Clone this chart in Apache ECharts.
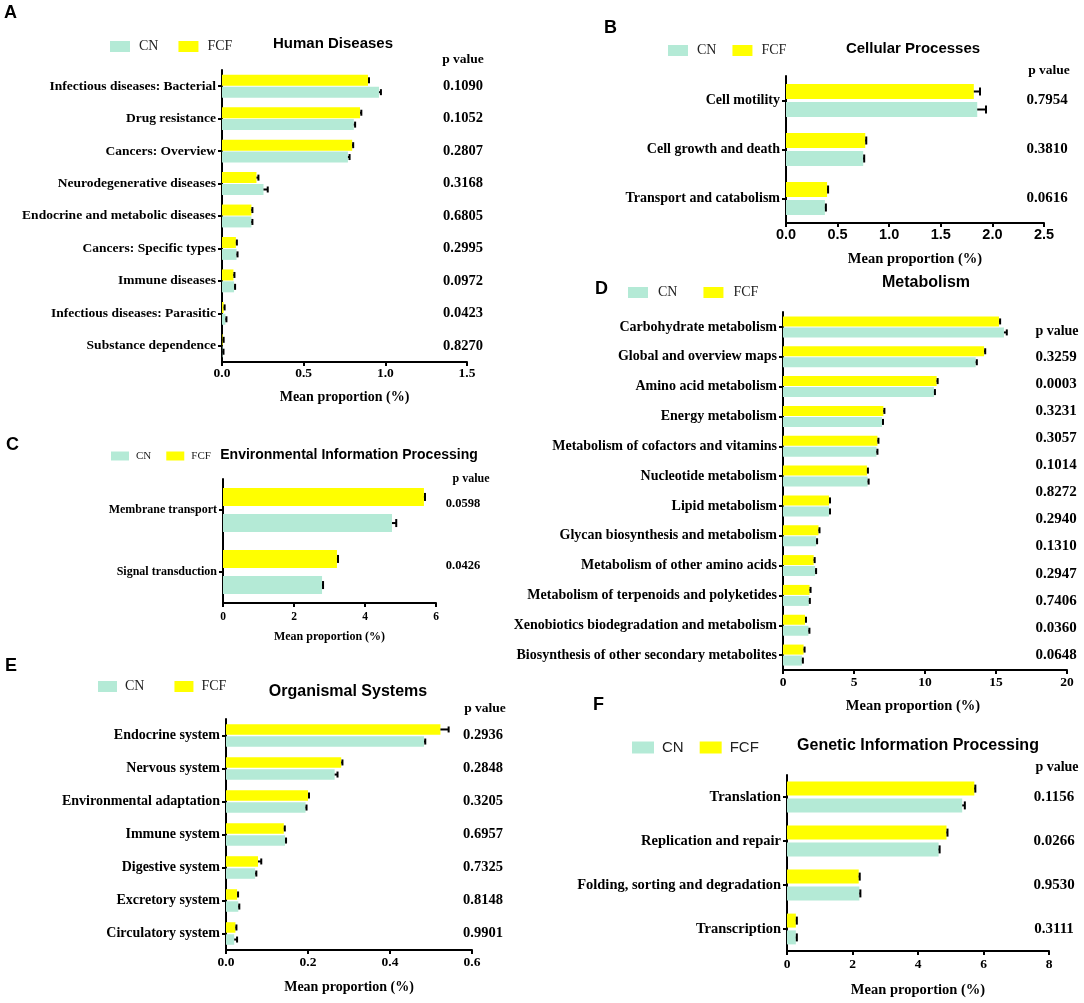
<!DOCTYPE html>
<html><head><meta charset="utf-8">
<script src="https://cdn.jsdelivr.net/npm/echarts@6/dist/echarts.min.js"></script>
<style>html,body{margin:0;padding:0;background:#fff}#c{width:1084px;height:1003px}</style>
</head><body><div id="c"></div>
<script>
// ---------------- DATA ----------------
const catsA = ['Infectious diseases: Bacterial','Drug resistance','Cancers: Overview','Neurodegenerative diseases','Endocrine and metabolic diseases','Cancers: Specific types','Immune diseases','Infectious diseases: Parasitic','Substance dependence'];
const fcfA = [0.894, 0.845, 0.797, 0.211, 0.180, 0.085, 0.070, 0.010, 0.004];
const fcfErrA = [0.006, 0.008, 0.006, 0.012, 0.004, 0.004, 0.004, 0.002, 0.001];
const cnA = [0.961, 0.807, 0.771, 0.254, 0.180, 0.089, 0.074, 0.021, 0.003];
const cnErrA = [0.012, 0.008, 0.010, 0.026, 0.004, 0.004, 0.004, 0.003, 0.001];
const pA = ['0.1090','0.1052','0.2807','0.3168','0.6805','0.2995','0.0972','0.0423','0.8270'];

const catsB = ['Cell motility','Cell growth and death','Transport and catabolism'];
const fcfB = [1.82, 0.768, 0.398];
const fcfErrB = [0.06, 0.008, 0.008];
const cnB = [1.853, 0.748, 0.377];
const cnErrB = [0.085, 0.008, 0];
const pB = ['0.7954','0.3810','0.0616'];

const catsC = ['Membrane transport','Signal transduction'];
const fcfC = [5.66, 3.21];
const fcfErrC = [0.03, 0.03];
const cnC = [4.76, 2.79];
const cnErrC = [0.12, 0];
const pC = ['0.0598','0.0426'];

const catsD = ['Carbohydrate metabolism','Global and overview maps','Amino acid metabolism','Energy metabolism','Metabolism of cofactors and vitamins','Nucleotide metabolism','Lipid metabolism','Glycan biosynthesis and metabolism','Metabolism of other amino acids','Metabolism of terpenoids and polyketides','Xenobiotics biodegradation and metabolism','Biosynthesis of other secondary metabolites'];
const fcfD = [15.21, 14.16, 10.82, 7.07, 6.65, 5.91, 3.24, 2.50, 2.16, 1.87, 1.55, 1.45];
const fcfErrD = [0.08, 0.08, 0.06, 0.05, 0.05, 0.04, 0.03, 0.05, 0.04, 0.03, 0.04, 0];
const cnD = [15.56, 13.57, 10.63, 6.97, 6.58, 5.96, 3.24, 2.33, 2.26, 1.82, 1.79, 1.33];
const cnErrD = [0.2, 0.08, 0.06, 0.05, 0.05, 0.04, 0.03, 0.05, 0.04, 0.03, 0.04, 0];
const pD = ['0.3259','0.0003','0.3231','0.3057','0.1014','0.8272','0.2940','0.1310','0.2947','0.7406','0.0360','0.0648'];

const catsE = ['Endocrine system','Nervous system','Environmental adaptation','Immune system','Digestive system','Excretory system','Circulatory system'];
const fcfE = [0.523, 0.281, 0.200, 0.141, 0.078, 0.027, 0.023];
const fcfErrE = [0.020, 0.003, 0.002, 0.002, 0.008, 0.002, 0.002];
const cnE = [0.483, 0.265, 0.194, 0.144, 0.071, 0.030, 0.020];
const cnErrE = [0.003, 0.007, 0.002, 0.002, 0.003, 0, 0.007];
const pE = ['0.2936','0.2848','0.3205','0.6957','0.7325','0.8148','0.9901'];

const catsF = ['Translation','Replication and repair','Folding, sorting and degradation','Transcription'];
const fcfF = [5.72, 4.87, 2.19, 0.27];
const fcfErrF = [0.03, 0.03, 0.02, 0];
const cnF = [5.35, 4.63, 2.21, 0.27];
const cnErrF = [0.08, 0.03, 0.02, 0];
const pF = ['0.1156','0.0266','0.9530','0.3111'];

const titles = ['Human Diseases','Cellular Processes','Environmental Information Processing','Metabolism','Organismal Systems','Genetic Information Processing'];
const letters = ['A','B','C','D','E','F'];
const axisMax = [1.5, 2.5, 6, 20, 0.6, 8];
const axisStep = [0.5, 0.5, 2, 5, 0.2, 2];
const groupNames = ['CN','FCF'];

// ---------------- STYLE / LAYOUT ----------------
const SERIF = '"Liberation Serif","Times New Roman",serif';
const SANS = '"Liberation Sans",Arial,sans-serif';
const CN_COLOR = '#b4ead6';
const FCF_COLOR = '#ffff00';

const layouts = [
  {left:222, top:70, width:245, height:292, dec:1, bw:11, gap:0.08, cap:3, lab:13.5, tick:13.5, tickFam:SERIF, tickMargin:5, nameGap:28.5, nameSize:14, namePad:0,
   letter:[4,13], lg:{left:110, top:39.5, w:20, h:11, gap:20, size:14, fam:SERIF, pad:4}, title:[333,44,15], pHead:[463,60], pHeadSize:13.5, pX:463, pOff:0, pSize:14.5},
  {left:786, top:76, width:258, height:147, dec:1, bw:15, gap:0.2, cap:4, lab:14, tick:14.5, tickFam:SANS, tickMargin:4, nameGap:28.5, nameSize:14.5, namePad:0,
   letter:[604,28], lg:{left:668, top:43.5, w:20, h:11, gap:16, size:14, fam:SERIF, pad:4}, title:[913,49,15], pHead:[1049,71], pHeadSize:13.5, pX:1047, pOff:0, pSize:15},
  {left:223, top:479, width:213, height:124, dec:0, bw:18, gap:0.45, cap:4, lab:12, tick:11.5, tickFam:SERIF, tickMargin:8, nameGap:28, nameSize:12, namePad:0,
   letter:[6,445], lg:{left:111, top:450.5, w:18, h:9, gap:15, size:11, fam:SERIF, pad:2}, title:[349,455,14], pHead:[471,479], pHeadSize:12, pX:463, pOff:-6, pSize:12.5},
  {left:783, top:312, width:284, height:358, dec:0, bw:10, gap:0.1, cap:3, lab:14, tick:13.5, tickFam:SERIF, tickMargin:6, nameGap:28.5, nameSize:14.5, namePad:24,
   letter:[595,289], lg:{left:628, top:285.5, w:20, h:11, gap:26, size:14, fam:SERIF, pad:5}, title:[926,283,16], pHead:[1057,331], pHeadSize:14, pX:1056, pOff:0, pSize:15, spreadP:true},
  {left:226, top:719, width:246, height:231, dec:1, bw:10.5, gap:0.15, cap:3, lab:14, tick:13.5, tickFam:SERIF, tickMargin:6, nameGap:30, nameSize:14, namePad:0,
   letter:[5,666], lg:{left:98, top:679.5, w:19, h:11, gap:30, size:14, fam:SERIF, pad:3}, title:[348,692,16], pHead:[485,709], pHeadSize:13.5, pX:483, pOff:0, pSize:14.5},
  {left:787, top:775, width:262, height:176, dec:0, bw:14, gap:0.2, cap:4, lab:14.5, tick:13.5, tickFam:SERIF, tickMargin:7, nameGap:31.5, nameSize:14.5, namePad:0,
   letter:[593,705], lg:{left:632, top:740, w:22, h:12, gap:16, size:15, fam:SANS, pad:3}, title:[918,746,16], pHead:[1057,767], pHeadSize:14, pX:1054, pOff:0, pSize:15}
];

const panels = [
  {cats:catsA, fcf:fcfA, fcfErr:fcfErrA, cn:cnA, cnErr:cnErrA, p:pA},
  {cats:catsB, fcf:fcfB, fcfErr:fcfErrB, cn:cnB, cnErr:cnErrB, p:pB},
  {cats:catsC, fcf:fcfC, fcfErr:fcfErrC, cn:cnC, cnErr:cnErrC, p:pC},
  {cats:catsD, fcf:fcfD, fcfErr:fcfErrD, cn:cnD, cnErr:cnErrD, p:pD},
  {cats:catsE, fcf:fcfE, fcfErr:fcfErrE, cn:cnE, cnErr:cnErrE, p:pE},
  {cats:catsF, fcf:fcfF, fcfErr:fcfErrF, cn:cnF, cnErr:cnErrF, p:pF}
];

function txt(x, y, text, font, align) {
  return {type:'text', x:x, y:y, silent:true, z:10,
    style:{text:text, font:font, fill:'#000', align:align||'center', verticalAlign:'middle',
           textAlign:align||'center', textVerticalAlign:'middle'}};
}

function errSeries(i, vals, errs, sign, L) {
  return {type:'custom', xAxisIndex:i, yAxisIndex:i, z:5, silent:true, clip:false,
    data: vals.map((v,k)=>[v, errs[k], k]),
    encode:{x:0, y:2},
    renderItem:function(params, api){
      const v=api.value(0), e=api.value(1), k=api.value(2);
      const p0=api.coord([v,k]), p1=api.coord([v+e,k]);
      const off = sign*(L.bw*(1+L.gap))/2;
      const y=p0[1]+off, cap=L.cap;
      const xe = Math.max(p1[0], p0[0]+1);
      return {type:'group', children:[
        {type:'line', shape:{x1:p0[0], y1:y, x2:xe, y2:y}, style:{stroke:'#000', lineWidth:2}},
        {type:'line', shape:{x1:xe, y1:y-cap, x2:xe, y2:y+cap}, style:{stroke:'#000', lineWidth:2}}
      ]};
    }};
}

const option = {animation:false, backgroundColor:'#fff', grid:[], xAxis:[], yAxis:[], series:[], legend:[], graphic:[]};

panels.forEach((P, i) => {
  const L = layouts[i];
  const n = P.cats.length;
  option.grid.push({left:L.left, top:L.top, width:L.width, height:L.height});
  option.xAxis.push({type:'value', gridIndex:i, min:0, max:axisMax[i], interval:axisStep[i],
    splitLine:{show:false},
    axisLine:{show:true, onZero:false, lineStyle:{color:'#000', width:2}},
    axisTick:{show:true, length:4, lineStyle:{color:'#000', width:2}},
    axisLabel:{margin:L.tickMargin, color:'#000', fontWeight:'bold', fontSize:L.tick, fontFamily:L.tickFam,
      formatter:(v)=>v.toFixed(L.dec)},
    name:'Mean proportion (%)', nameLocation:'middle', nameGap:L.nameGap,
    nameTextStyle:{color:'#000', fontWeight:'bold', fontSize:L.nameSize, fontFamily:SERIF, padding:[0,L.namePad,0,0]}});
  option.yAxis.push({type:'category', gridIndex:i, data:P.cats, inverse:true,
    axisLine:{show:true, lineStyle:{color:'#000', width:2}},
    axisTick:{show:true, alignWithLabel:true, length:4, lineStyle:{color:'#000', width:2}},
    axisLabel:{margin:6, interval:0, color:'#000', fontWeight:'bold', fontSize:L.lab, fontFamily:SERIF}});
  option.series.push({type:'bar', name:'FCF', xAxisIndex:i, yAxisIndex:i, data:P.fcf,
    barWidth:L.bw, barGap:(L.gap*100)+'%', itemStyle:{color:FCF_COLOR}, silent:true});
  option.series.push({type:'bar', name:'CN', xAxisIndex:i, yAxisIndex:i, data:P.cn,
    barWidth:L.bw, barGap:(L.gap*100)+'%', itemStyle:{color:CN_COLOR}, silent:true});
  option.series.push(errSeries(i, P.fcf, P.fcfErr, -1, L));
  option.series.push(errSeries(i, P.cn, P.cnErr, 1, L));
  option.legend.push({data:groupNames, left:L.lg.left, top:L.lg.top, padding:0, orient:'horizontal',
    itemWidth:L.lg.w, itemHeight:L.lg.h, itemGap:L.lg.gap, icon:'rect', selectedMode:false,
    textStyle:{fontFamily:L.lg.fam, fontSize:L.lg.size, color:'#222', padding:[0,0,0,L.lg.pad]}});
  option.graphic.push(txt(L.letter[0], L.letter[1], letters[i], 'bold 18px '+SANS, 'left'));
  option.graphic.push(txt(L.title[0], L.title[1], titles[i], 'bold '+L.title[2]+'px '+SANS));
  option.graphic.push(txt(L.pHead[0], L.pHead[1], 'p value', 'bold '+L.pHeadSize+'px '+SERIF));
  const band = L.height / n;
  P.p.forEach((pv, k) => {
    let y;
    if (L.spreadP) {
      const c1 = L.top + 1.5*band, cLast = L.top + (n-0.5)*band;
      y = c1 + k*(cLast - c1)/(P.p.length-1);
    } else {
      y = L.top + (k+0.5)*band + L.pOff;
    }
    option.graphic.push(txt(L.pX, y, pv, 'bold '+L.pSize+'px '+SERIF));
  });
});

const chart = echarts.init(document.getElementById('c'), null, {renderer:'canvas'});
chart.setOption(option);
</script></body></html>
